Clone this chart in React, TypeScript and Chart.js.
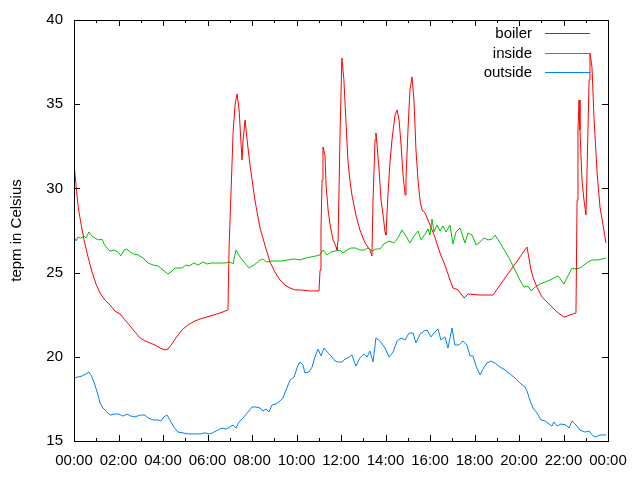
import React, { useEffect, useRef } from "react";
import { Chart, registerables } from "chart.js";

Chart.register(...registerables);

const seriesNames = ["boiler", "inside", "outside"];
const seriesColors = ["#ff0000", "#00c000", "#0080ff"];

const xTickStep = 2;
const yTicks = [15, 20, 25, 30, 35, 40];
const yLabel = "tepm in Celsius";

const boilerTime = [0, 0.09, 0.18, 0.27, 0.45, 0.63, 0.81, 0.99, 1.17, 1.39, 1.62, 1.84, 2.07, 2.29, 2.52, 2.74, 2.97, 3.19, 3.42, 3.64, 3.87, 4.09, 4.22, 4.4, 4.58, 4.85, 5.12, 5.44, 5.66, 6.11, 6.56, 6.92, 6.97, 7.06, 7.15, 7.24, 7.33, 7.42, 7.55, 7.6, 7.69, 7.78, 7.91, 8.13, 8.36, 8.58, 8.81, 9.03, 9.26, 9.48, 9.71, 9.93, 10.16, 10.61, 11.01, 11.06, 11.1, 11.15, 11.19, 11.28, 11.33, 11.42, 11.51, 11.64, 11.78, 11.82, 11.87, 11.96, 12.04, 12.13, 12.22, 12.31, 12.4, 12.49, 12.67, 12.85, 13.08, 13.3, 13.39, 13.44, 13.53, 13.57, 13.62, 13.71, 13.8, 13.89, 13.98, 14.02, 14.11, 14.2, 14.29, 14.43, 14.52, 14.61, 14.7, 14.79, 14.88, 14.92, 15.01, 15.1, 15.19, 15.28, 15.37, 15.46, 15.55, 15.64, 15.78, 16.0, 16.22, 16.45, 16.67, 16.9, 17.03, 17.26, 17.53, 17.71, 18.25, 18.83, 20.36, 20.54, 20.67, 20.81, 21.03, 21.39, 21.71, 22.02, 22.29, 22.56, 22.61, 22.65, 22.7, 22.74, 22.83, 22.92, 23.01, 23.06, 23.15, 23.19, 23.28, 23.37, 23.51, 23.64, 23.91];
const boilerTemp = [31.5, 30.2, 29.0, 28.24, 26.94, 25.93, 25.04, 24.32, 23.79, 23.37, 23.08, 22.72, 22.54, 22.19, 21.83, 21.47, 21.12, 20.94, 20.82, 20.7, 20.52, 20.4, 20.46, 20.76, 21.12, 21.59, 21.89, 22.13, 22.24, 22.42, 22.6, 22.78, 26.52, 29.9, 33.29, 35.0, 35.61, 34.66, 31.69, 32.87, 34.06, 32.87, 31.39, 29.31, 27.65, 26.64, 25.63, 25.04, 24.56, 24.26, 24.09, 23.97, 23.97, 23.91, 23.91, 25.15, 27.53, 30.5, 32.46, 31.98, 30.2, 28.72, 27.83, 26.94, 26.52, 26.34, 26.94, 33.47, 37.74, 36.44, 34.06, 31.69, 30.5, 29.61, 28.42, 27.53, 26.76, 26.34, 25.99, 29.31, 32.87, 33.29, 32.58, 31.1, 29.31, 28.42, 27.41, 27.23, 29.61, 31.51, 32.87, 34.36, 34.66, 34.06, 32.58, 30.8, 29.61, 30.5, 33.47, 35.84, 36.62, 35.25, 32.28, 30.5, 29.31, 28.72, 28.54, 27.83, 27.11, 26.16, 25.45, 24.56, 24.09, 23.97, 23.49, 23.73, 23.67, 23.67, 26.52, 25.15, 24.56, 24.14, 23.55, 23.08, 22.66, 22.36, 22.48, 22.6, 29.31, 33.47, 35.25, 33.47, 30.5, 29.31, 28.42, 31.1, 36.44, 38.04, 37.2, 34.24, 30.91, 28.9, 26.76];

const insideTime = [0, 0.09, 0.18, 0.31, 0.45, 0.54, 0.67, 0.81, 0.94, 1.08, 1.26, 1.35, 1.48, 1.62, 1.8, 1.98, 2.11, 2.25, 2.38, 2.52, 2.7, 2.88, 3.1, 3.33, 3.55, 3.78, 4.0, 4.22, 4.36, 4.54, 4.85, 5.03, 5.17, 5.39, 5.57, 5.8, 5.98, 6.16, 6.47, 6.79, 7.01, 7.15, 7.28, 7.46, 7.64, 7.87, 8.09, 8.31, 8.49, 8.67, 8.9, 9.26, 9.62, 9.89, 10.16, 10.43, 10.65, 10.88, 11.06, 11.19, 11.37, 11.55, 11.73, 11.96, 12.09, 12.27, 12.45, 12.67, 12.85, 13.03, 13.21, 13.39, 13.57, 13.75, 13.93, 14.16, 14.38, 14.56, 14.74, 14.92, 15.1, 15.28, 15.46, 15.6, 15.78, 15.91, 16.0, 16.09, 16.18, 16.31, 16.45, 16.58, 16.72, 16.9, 17.03, 17.17, 17.35, 17.57, 17.71, 17.89, 18.07, 18.25, 18.43, 18.61, 18.79, 18.92, 19.15, 19.37, 19.6, 19.82, 20.04, 20.22, 20.4, 20.54, 20.72, 20.94, 21.17, 21.39, 21.57, 21.75, 21.93, 22.02, 22.2, 22.38, 22.56, 22.74, 22.92, 23.1, 23.28, 23.55, 23.91];
const insideTemp = [27.11, 26.88, 27.11, 27.05, 27.17, 27.05, 27.41, 27.17, 27.05, 26.94, 26.99, 26.7, 26.46, 26.28, 26.34, 26.22, 25.99, 26.34, 26.4, 26.22, 26.1, 26.05, 25.87, 25.57, 25.45, 25.39, 25.15, 24.92, 25.04, 25.27, 25.27, 25.45, 25.39, 25.57, 25.45, 25.63, 25.51, 25.57, 25.57, 25.57, 25.63, 25.51, 26.34, 25.93, 25.63, 25.27, 25.45, 25.69, 25.81, 25.63, 25.69, 25.69, 25.75, 25.81, 25.75, 25.87, 25.93, 25.99, 26.05, 26.34, 26.05, 26.22, 26.28, 26.34, 26.16, 26.34, 26.46, 26.46, 26.34, 26.34, 26.46, 26.28, 26.4, 26.4, 26.7, 26.88, 26.76, 27.05, 27.53, 27.17, 26.76, 27.17, 27.47, 26.94, 27.29, 27.59, 27.23, 28.18, 27.41, 27.83, 27.47, 27.77, 27.41, 27.83, 26.7, 27.41, 27.65, 26.76, 27.35, 27.23, 26.64, 26.82, 27.05, 26.94, 26.99, 27.23, 26.76, 26.28, 25.75, 25.15, 24.56, 24.14, 24.2, 23.91, 24.14, 24.32, 24.44, 24.56, 24.68, 24.8, 24.5, 24.32, 24.8, 25.27, 25.21, 25.27, 25.45, 25.63, 25.75, 25.75, 25.87];

const outsideTime = [0, 0.18, 0.36, 0.54, 0.67, 0.81, 0.94, 1.08, 1.17, 1.3, 1.48, 1.62, 1.84, 2.02, 2.2, 2.38, 2.56, 2.74, 2.97, 3.19, 3.33, 3.55, 3.78, 3.91, 4.04, 4.18, 4.31, 4.49, 4.67, 4.9, 5.12, 5.44, 5.66, 5.89, 6.11, 6.29, 6.47, 6.65, 6.83, 7.01, 7.15, 7.28, 7.42, 7.6, 7.82, 8.0, 8.18, 8.36, 8.49, 8.63, 8.76, 8.9, 9.08, 9.26, 9.39, 9.53, 9.71, 9.89, 10.07, 10.16, 10.29, 10.38, 10.56, 10.7, 10.83, 10.97, 11.1, 11.24, 11.42, 11.55, 11.73, 11.87, 12.04, 12.18, 12.31, 12.49, 12.67, 12.85, 13.03, 13.17, 13.3, 13.44, 13.57, 13.75, 13.98, 14.16, 14.34, 14.52, 14.7, 14.88, 15.06, 15.24, 15.37, 15.55, 15.73, 15.87, 16.04, 16.18, 16.36, 16.49, 16.67, 16.81, 16.99, 17.12, 17.3, 17.48, 17.66, 17.8, 17.93, 18.07, 18.25, 18.38, 18.56, 18.74, 18.92, 19.15, 19.37, 19.6, 19.82, 20.04, 20.27, 20.36, 20.49, 20.63, 20.81, 20.99, 21.17, 21.35, 21.48, 21.57, 21.71, 21.89, 22.11, 22.25, 22.38, 22.56, 22.74, 22.97, 23.15, 23.33, 23.46, 23.64, 23.91];
const outsideTemp = [18.74, 18.8, 18.86, 18.98, 19.1, 18.8, 18.33, 17.73, 17.26, 16.96, 16.72, 16.54, 16.6, 16.6, 16.48, 16.6, 16.48, 16.43, 16.54, 16.54, 16.37, 16.25, 16.25, 16.19, 16.43, 16.54, 16.25, 15.83, 15.53, 15.48, 15.42, 15.42, 15.42, 15.48, 15.42, 15.53, 15.65, 15.77, 15.71, 15.83, 15.95, 15.77, 16.13, 16.37, 16.72, 17.02, 17.02, 16.96, 16.78, 16.9, 16.72, 17.14, 17.2, 17.38, 17.55, 18.03, 18.62, 18.8, 19.51, 19.69, 19.51, 19.04, 19.1, 19.39, 19.99, 20.46, 20.05, 20.52, 20.23, 20.05, 19.75, 19.69, 19.69, 19.87, 19.93, 20.11, 19.45, 19.93, 20.17, 19.99, 20.34, 19.69, 21.12, 20.94, 20.52, 19.99, 20.29, 20.94, 21.12, 21.0, 21.41, 21.41, 20.82, 21.35, 21.53, 21.59, 21.18, 21.41, 21.65, 21.0, 21.18, 20.52, 21.71, 20.7, 20.7, 20.94, 20.7, 20.05, 20.05, 19.45, 18.92, 19.27, 19.63, 19.75, 19.63, 19.39, 19.22, 18.98, 18.74, 18.44, 18.21, 17.97, 17.43, 16.96, 16.66, 16.25, 16.19, 16.01, 15.89, 16.13, 15.89, 16.01, 15.95, 15.77, 16.19, 15.95, 15.65, 15.53, 15.59, 15.3, 15.24, 15.36, 15.36];

const FONT = "'Liberation Sans', Arial, sans-serif";
const FONT_SIZE = 15;

function toPoints(t: number[], v: number[]) {
  return t.map((x, i) => ({ x, y: v[i] }));
}

function fmtHour(v: number) {
  const h = ((Math.round(v) % 24) + 24) % 24;
  return (h < 10 ? "0" : "") + h + ":00";
}

const framePlugin = {
  id: "gnuplotFrame",
  afterDraw(chart: any) {
    const ctx = chart.ctx;
    const { left, right, top, bottom } = chart.chartArea;
    const xs = chart.scales.x;
    const ys = chart.scales.y;
    ctx.save();
    ctx.strokeStyle = "#000";
    ctx.lineWidth = 1;
    ctx.beginPath();
    for (let h = xs.min; h <= xs.max + 1e-9; h += 1) {
      const px = Math.round(xs.getPixelForValue(h)) + 0.5;
      const len = Math.abs(h % xTickStep) < 1e-9 ? 6 : 3;
      ctx.moveTo(px, bottom);
      ctx.lineTo(px, bottom - len);
      ctx.moveTo(px, top);
      ctx.lineTo(px, top + len);
    }
    ys.ticks.forEach((t: any) => {
      const py = Math.round(ys.getPixelForValue(t.value)) + 0.5;
      ctx.moveTo(left, py);
      ctx.lineTo(left + 6, py);
      ctx.moveTo(right, py);
      ctx.lineTo(right - 6, py);
    });
    ctx.stroke();
    ctx.strokeRect(Math.round(left) + 0.5, Math.round(top) + 0.5, Math.round(right - left), Math.round(bottom - top));

    // key
    ctx.font = FONT_SIZE + "px " + FONT;
    ctx.textAlign = "right";
    ctx.textBaseline = "middle";
    seriesNames.forEach((name, i) => {
      const y = Math.round(33 + i * 19.5) + 0.5;
      ctx.fillStyle = "#000";
      ctx.fillText(name, 532, y);
      ctx.beginPath();
      ctx.strokeStyle = seriesColors[i];
      ctx.lineWidth = 1;
      ctx.moveTo(545, y);
      ctx.lineTo(590, y);
      ctx.stroke();
    });
    ctx.restore();
  },
};

export default function App() {
  const ref = useRef<HTMLCanvasElement | null>(null);
  useEffect(() => {
    document.body.style.margin = "0";
    const canvas = ref.current!;
    const series = [
      [boilerTime, boilerTemp],
      [insideTime, insideTemp],
      [outsideTime, outsideTemp],
    ];
    const chart = new Chart(canvas, {
      type: "line",
      data: {
        datasets: series.map((s, i) => ({
          label: seriesNames[i],
          data: toPoints(s[0], s[1]),
          borderColor: seriesColors[i],
          backgroundColor: seriesColors[i],
          borderWidth: 1,
          pointRadius: 0,
          tension: 0,
          fill: false,
        })),
      },
      options: {
        animation: false,
        responsive: false,
        devicePixelRatio: 1,
        layout: { padding: { left: 0, top: 20, right: 32, bottom: 0 } },
        plugins: { legend: { display: false }, tooltip: { enabled: false } },
        scales: {
          x: {
            type: "linear",
            min: 0,
            max: 24,
            grid: { display: false, drawTicks: false },
            border: { display: false },
            ticks: {
              stepSize: xTickStep,
              padding: 11,
              maxRotation: 0,
              autoSkip: false,
              color: "#000",
              font: { family: FONT, size: FONT_SIZE },
              callback: (v: any) => fmtHour(Number(v)),
            },
            afterFit: (s: any) => {
              s.height = 39;
            },
          },
          y: {
            type: "linear",
            min: yTicks[0],
            max: yTicks[yTicks.length - 1],
            grid: { display: false, drawTicks: false },
            border: { display: false },
            title: {
              display: true,
              text: yLabel,
              color: "#000",
              font: { family: FONT, size: FONT_SIZE },
              padding: { top: 8, bottom: 0 },
            },
            ticks: {
              stepSize: 5,
              padding: 11,
              color: "#000",
              font: { family: FONT, size: FONT_SIZE },
            },
            afterFit: (s: any) => {
              s.width = 74;
            },
          },
        },
      },
      plugins: [framePlugin],
    });
    return () => chart.destroy();
  }, []);
  return (
    <div style={{ position: "absolute", left: 0, top: 0, width: 640, height: 480, background: "#fff" }}>
      <canvas ref={ref} width={640} height={480} />
    </div>
  );
}
